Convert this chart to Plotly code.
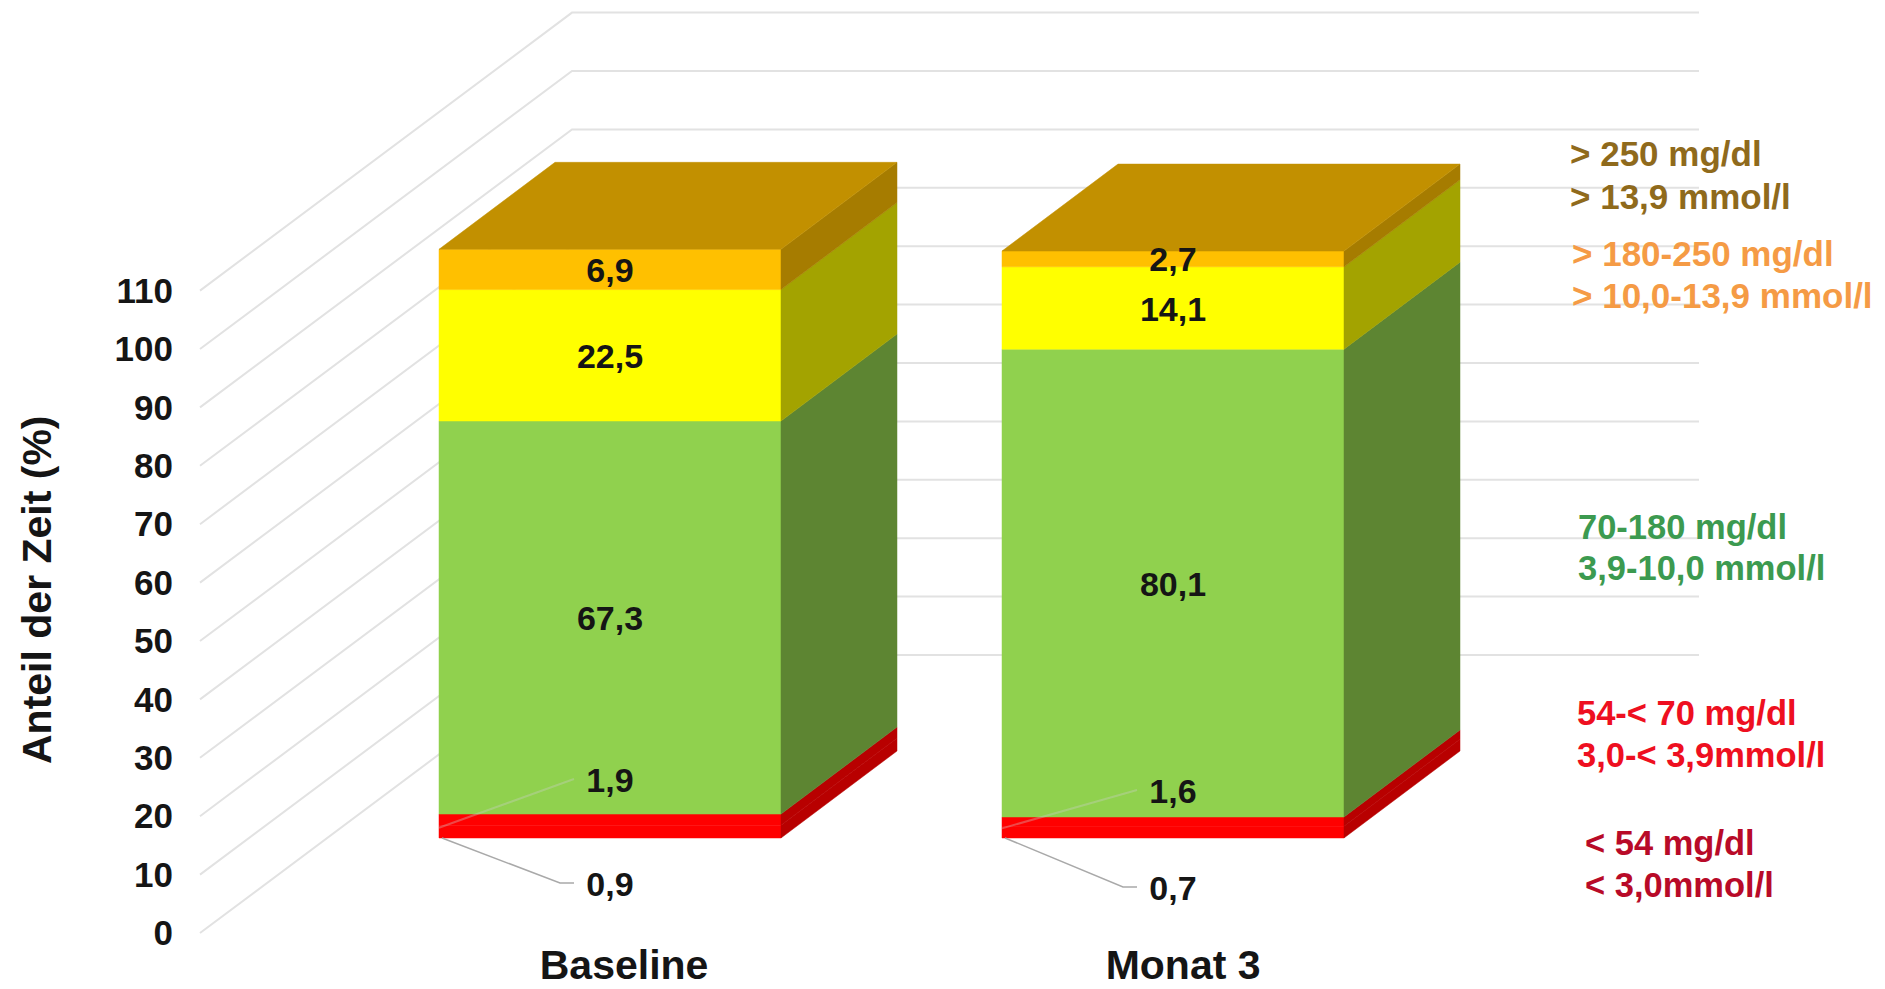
import plotly.graph_objects as go

# ---- data ----
categories = ["Baseline", "Monat 3"]
very_low = [0.9, 0.7]       # < 54 mg/dl
low = [1.9, 1.6]            # 54-<70 mg/dl
in_range = [67.3, 80.1]     # 70-180 mg/dl
high = [22.5, 14.1]         # >180-250 mg/dl
very_high = [6.9, 2.7]      # >250 mg/dl
y_ticks = list(range(0, 111, 10))

band_lines = [
    ["> 250 mg/dl", "> 13,9 mmol/l"],
    ["> 180-250 mg/dl", "> 10,0-13,9 mmol/l"],
    ["70-180 mg/dl", "3,9-10,0 mmol/l"],
    ["54-< 70 mg/dl", "3,0-< 3,9mmol/l"],
    ["< 54 mg/dl", "< 3,0mmol/l"],
]

# ---- canvas and projection ----
W, H = 1885, 989
M_L, M_B = 174, 52
PX_PER_UNIT = 5.84          # vertical pixels per percent
PX_PER_CAT = 563            # horizontal pixels between the two bars
ZERO_X_PX, ZERO_Y_PX = 610, 933
FONT = "Liberation Sans"


def x_of(px):
    return (px - ZERO_X_PX) / PX_PER_CAT


def y_of(px):
    return (ZERO_Y_PX - px) / PX_PER_UNIT


BAR_WIDTH = 342 / PX_PER_CAT
BAR_DX = 116 / PX_PER_CAT    # depth of a bar, horizontally
BAR_LIFT = 87 / PX_PER_UNIT  # depth of a bar, vertically
STACK_LIFT = y_of(830.4)     # where a stack's zero sits on the front plane
PLINTH = 1.3                 # thickness of the bar floor under the stack

WALL_DX = x_of(572) - x_of(200)
WALL_LIFT = 278 / PX_PER_UNIT
GRID_LEFT, GRID_RIGHT = x_of(200), x_of(1699)

FACE_COLORS = ["#FF0000", "#FF0000", "#90D14E", "#FFFF00", "#FFC000"]
SIDE_COLORS = ["#B80000", "#B80000", "#5D8532", "#A3A300", "#A67C00"]
TOP_COLOR = "#C29000"
TEXT = "#151515"
LEADER = "#A9A9A9"
LABEL_NUDGE = 4 / PX_PER_UNIT   # optical centring of the text marks

BAND_COLORS = ["#8F6A1C", "#F59B45", "#3C9A50", "#EE0F20", "#B80A28"]
BAND_SIZES = [35, 35, 34.5, 34.5, 34.5]
BAND_X_PX = [1568, 1570, 1576, 1575, 1583]
BAND_Y_PX = [(153, 196), (253, 295), (527, 568), (713, 755), (843, 885)]

fig = go.Figure()


def polygon(xs, ys, color):
    # a hairline in the fill colour closes the seams between neighbouring faces
    fig.add_trace(go.Scatter(
        x=xs + xs[:1], y=ys + ys[:1], mode="lines", fill="toself",
        fillcolor=color, line=dict(color=color, width=0.5),
        hoverinfo="skip", showlegend=False,
    ))


# gridlines: along the side wall, then across the back wall
for v in y_ticks:
    fig.add_trace(go.Scatter(
        x=[GRID_LEFT, GRID_LEFT + WALL_DX, GRID_RIGHT],
        y=[v, v + WALL_LIFT, v + WALL_LIFT],
        mode="lines", line=dict(color="#E2E2E2", width=2),
        hoverinfo="skip", showlegend=False,
    ))

stacks = list(zip(very_low, low, in_range, high, very_high))

# bars
for i, values in enumerate(stacks):
    left = i - BAR_WIDTH / 2
    right = i + BAR_WIDTH / 2
    bottom = -PLINTH
    cumulative = 0
    for j, value in enumerate(values):
        lo = cumulative if j else bottom
        hi = cumulative + value
        cumulative = hi
        polygon([left, right, right, left],
                [lo + STACK_LIFT, lo + STACK_LIFT, hi + STACK_LIFT, hi + STACK_LIFT],
                FACE_COLORS[j])
        polygon([right, right + BAR_DX, right + BAR_DX, right],
                [lo + STACK_LIFT, lo + STACK_LIFT + BAR_LIFT,
                 hi + STACK_LIFT + BAR_LIFT, hi + STACK_LIFT],
                SIDE_COLORS[j])
    top = cumulative + STACK_LIFT
    polygon([left, right, right + BAR_DX, left + BAR_DX],
            [top, top, top + BAR_LIFT, top + BAR_LIFT], TOP_COLOR)


def fmt(value):
    return f"{value:.1f}".replace(".", ",")


# labels centred on the three large segments
label_x, label_y, label_text = [], [], []
for i, values in enumerate(stacks):
    for j in (2, 3, 4):
        centre = sum(values[:j]) + values[j] / 2
        label_x.append(i)
        label_y.append(centre + STACK_LIFT - LABEL_NUDGE)
        label_text.append(fmt(values[j]))
fig.add_trace(go.Scatter(
    x=label_x, y=label_y, text=label_text, mode="text",
    textfont=dict(family=FONT, size=34, color=TEXT, weight="bold"),
    hoverinfo="skip", showlegend=False,
))

# small segments carry their label outside, on a leader line
SMALL_LABEL_PX = [(779, 883), (790, 887)]
for i, (y_low_px, y_very_px) in enumerate(SMALL_LABEL_PX):
    left = i - BAR_WIDTH / 2
    elbow = x_of(ZERO_X_PX + PX_PER_CAT * i - 50)
    end = x_of(ZERO_X_PX + PX_PER_CAT * i - 36)
    fig.add_trace(go.Scatter(
        x=[left + x_of(ZERO_X_PX + 3) - x_of(ZERO_X_PX), elbow, end],
        y=[STACK_LIFT - PLINTH, y_of(y_very_px), y_of(y_very_px)],
        mode="lines", line=dict(color=LEADER, width=1.5),
        hoverinfo="skip", showlegend=False,
    ))
    fig.add_trace(go.Scatter(
        x=[left, end],
        y=[STACK_LIFT + very_low[i] / 2, y_of(y_low_px)],
        mode="lines", line=dict(color="rgba(205,205,205,0.35)", width=2),
        hoverinfo="skip", showlegend=False,
    ))
    fig.add_trace(go.Scatter(
        x=[i, i], y=[y_of(y_low_px) - LABEL_NUDGE, y_of(y_very_px) - LABEL_NUDGE],
        text=[fmt(low[i]), fmt(very_low[i])], mode="text",
        textfont=dict(family=FONT, size=34, color=TEXT, weight="bold"),
        hoverinfo="skip", showlegend=False,
    ))

# glucose band captions on the right
annotations = []
for lines, color, size, x_px, ys_px in zip(
        band_lines, BAND_COLORS, BAND_SIZES, BAND_X_PX, BAND_Y_PX):
    for line, y_px in zip(lines, ys_px):
        annotations.append(dict(
            x=x_of(x_px), y=y_of(y_px), xref="x", yref="y", text=line,
            showarrow=False, xanchor="left", yanchor="middle", align="left",
            font=dict(family=FONT, size=size, color=color, weight="bold"),
        ))

# axis title, placed in plot-area fractions
annotations.append(dict(
    x=(37 - M_L) / (W - M_L), y=1 - 590 / (H - M_B), xref="paper", yref="paper",
    text="Anteil der Zeit (%)", textangle=-90, showarrow=False,
    font=dict(family=FONT, size=41, color=TEXT, weight="bold"),
    xanchor="center", yanchor="middle",
))

fig.update_layout(
    width=W, height=H, autosize=False,
    margin=dict(l=M_L, r=0, t=0, b=M_B, pad=0),
    paper_bgcolor="white", plot_bgcolor="white",
    showlegend=False, annotations=annotations,
    xaxis=dict(
        range=[x_of(M_L), x_of(W)], showgrid=False, zeroline=False, showline=False,
        tickmode="array", tickvals=[0.025, 1.018], ticktext=categories,
        ticks="", tickfont=dict(family=FONT, size=41, color=TEXT, weight="bold"),
        fixedrange=True, automargin=False,
    ),
    yaxis=dict(
        range=[y_of(H - M_B), y_of(0)], showgrid=False, zeroline=False, showline=False,
        tickmode="array", tickvals=y_ticks, ticktext=[str(t) for t in y_ticks],
        ticks="", tickfont=dict(family=FONT, size=35, color=TEXT, weight="bold"),
        fixedrange=True, automargin=False,
    ),
)

fig.write_html("out.html", config=dict(displayModeBar=False))
